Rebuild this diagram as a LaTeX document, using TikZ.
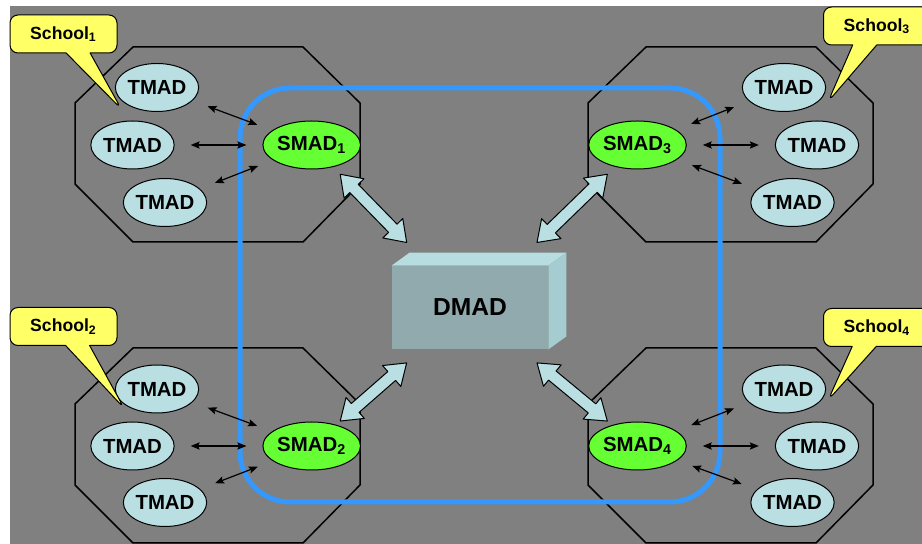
\documentclass[tikz,border=0pt]{standalone}
\usepackage{fontspec}
\setmainfont{Liberation Sans}
\usetikzlibrary{shapes.geometric,shapes.arrows,shapes.callouts,calc,arrows.meta}
\definecolor{bggray}{RGB}{128,128,128}
\definecolor{tcyan}{RGB}{185,223,227}
\definecolor{sgreen}{RGB}{102,255,51}
\definecolor{lblue}{RGB}{51,153,255}
\definecolor{callyel}{RGB}{255,255,102}
\definecolor{dfront}{RGB}{145,170,174}
\definecolor{dtop}{RGB}{183,221,224}
\definecolor{dside}{RGB}{165,205,209}
\begin{document}
\begin{tikzpicture}[x=.5pt,y=-.5pt,>={Stealth[length=4.5pt,width=3.6pt,inset=.8pt]},line join=round,
	tmad/.style={ellipse,draw=black,line width=.5pt,fill=tcyan,minimum width=40.5pt,minimum height=24pt,inner sep=0pt,font=\fontsize{10.2}{12}\selectfont\bfseries},
	smad/.style={tmad,fill=sgreen},
	dmad/.style={rectangle,fill=dfront,minimum width=78pt,minimum height=41.5pt,font=\fontsize{12.3}{14}\selectfont\bfseries},
	link/.style={<->,line width=.6pt,shorten >=8pt,shorten <=8pt},
	school/.style={rectangle callout,draw=black,line width=.5pt,fill=callyel,rounded corners=4pt,minimum width=53.5pt,minimum height=19pt,inner sep=0pt,callout pointer width=12pt,font=\fontsize{8.8}{10}\selectfont\bfseries},
	bigarrow/.style={double arrow,draw=black,line width=.5pt,fill=tcyan,inner sep=2.7pt,minimum width=13.5pt,double arrow head extend=4pt,double arrow tip angle=70}]
		\useasboundingbox (0,0) rectangle (922,544);
		\fill[bggray] (10,6) rectangle (922,544);
		\foreach \dx/\dy in {0/0,0/301,513/0,513/301}
		\draw[line width=.75pt,shift={(\dx,\dy)}]
		(133,47)--(303,47)--(360,103)--(360,184)--(303,242)--(133,242)--(75,184)--(75,103)--cycle
		;
		\draw[lblue,line width=2.5pt,rounded corners=25pt]
		(240,88) rectangle (720,502)
		;
		\path
		(311.7,145) node[smad] (S1) {SMAD\textsubscript{1}}
		(311.7,446) node[smad] (S2) {SMAD\textsubscript{2}}
		(637.5,145) node[smad] (S3) {SMAD\textsubscript{3}}
		(637.5,446) node[smad] (S4) {SMAD\textsubscript{4}}
		(157,87.5) node[tmad] (T11) {TMAD}
		(132.5,145) node[tmad] (T12) {TMAD}
		(165,202.5) node[tmad] (T13) {TMAD}
		(157,389) node[tmad] (T21) {TMAD}
		(132.5,446) node[tmad] (T22) {TMAD}
		(165,502.5) node[tmad] (T23) {TMAD}
		(784,87.5) node[tmad] (T31) {TMAD}
		(817,145) node[tmad] (T32) {TMAD}
		(792.5,202.5) node[tmad] (T33) {TMAD}
		(784,389) node[tmad] (T41) {TMAD}
		(817,446) node[tmad] (T42) {TMAD}
		(792.5,502.5) node[tmad] (T43) {TMAD}
		(470,307.5) node[dmad] (D) {DMAD}
		;
		\foreach \g in {1,2,3,4}
		\foreach \t in {1,2,3}
		\draw[link] (T\g\t)--(S\g);
		\path
		(63.5,34) node[school,callout absolute pointer={($(T11.south west)+(-6,4)$)}] (C1) {School\textsubscript{1}}
		(63.5,326.5) node[school,callout absolute pointer={($(T21.south west)+(-3,2)$)}] (C2) {School\textsubscript{2}}
		(877,26) node[school,callout absolute pointer={($(T31.east)+(2,14)$)}] (C3) {School\textsubscript{3}}
		(877,327.5) node[school,callout absolute pointer={($(T41.east)+(2,11)$)}] (C4) {School\textsubscript{4}}
		;
		\fill[dtop]
		(D.north west)--++(18,-13)--($(D.north east)+(18,-13)$)--(D.north east)--cycle
		;
		\fill[dside]
		(D.north east)--++(18,-13)--($(D.south east)+(18,-13)$)--(D.south east)--cycle
		;
		\foreach \s in {S1,S2,S3,S4}
		\path let \p1=($(\s)!.18!(D)$), \p2=($(\s)!.6!(D)$), \p3=($(\p2)-(\p1)$),
		\n1={veclen(\x3,\y3)}, \n2={atan2(\y3,\x3)} in
		node[bigarrow,minimum height=\n1,rotate=\n2] at ($(\p1)!.5!(\p2)$) {};
\end{tikzpicture}
\end{document}
